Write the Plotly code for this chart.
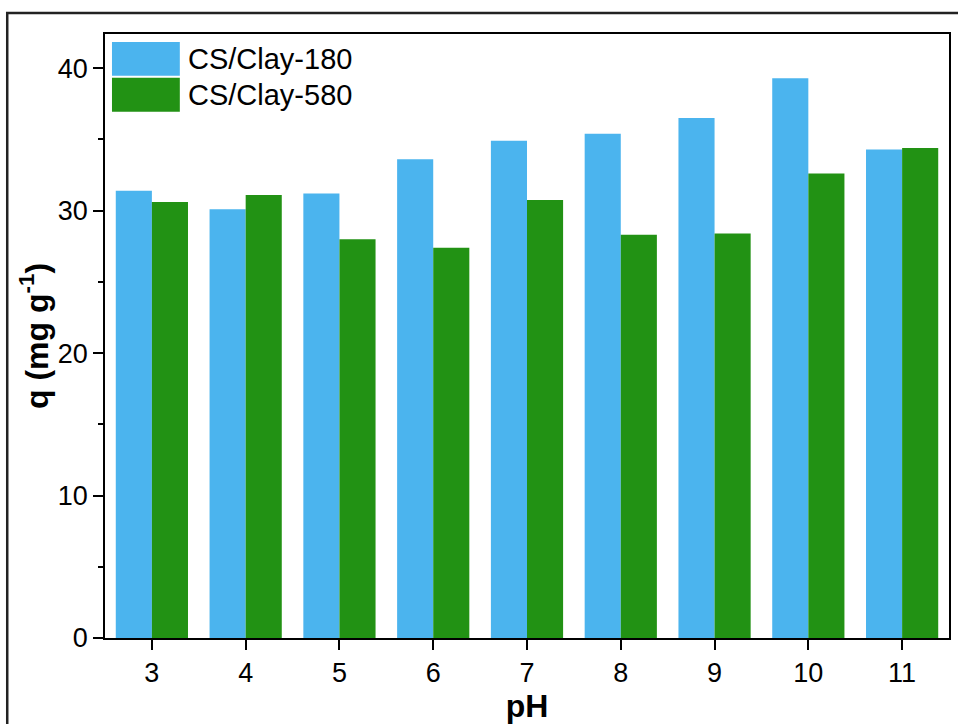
import plotly.graph_objects as go

ph = [3, 4, 5, 6, 7, 8, 9, 10, 11]
cs_clay_180 = [31.4, 30.1, 31.2, 33.6, 34.9, 35.4, 36.5, 39.3, 34.3]
cs_clay_580 = [30.6, 31.1, 28.0, 27.4, 30.75, 28.3, 28.4, 32.6, 34.4]
series_names = ["CS/Clay-180", "CS/Clay-580"]
colors = ["#4BB4EE", "#229214"]

W, H = 958, 724
L, R, T, B = 105, 7, 34, 84
pw, ph_ = W - L - R, H - T - B

def px(x):
    return (x - L) / pw

def py(y):
    return (H - B - y) / ph_

fig = go.Figure()
for name, vals, c in zip(series_names, [cs_clay_180, cs_clay_580], colors):
    fig.add_trace(go.Bar(x=ph, y=vals, name=name, marker=dict(color=c, line=dict(width=0)),
                         showlegend=False))

font_family = "Liberation Sans, Arial, sans-serif"

shapes = [
    # outer frame
    dict(type="rect", xref="paper", yref="paper", x0=px(7), x1=px(W + 20), y0=py(H + 20), y1=py(13),
         line=dict(color="#222222", width=2.5), fillcolor="rgba(0,0,0,0)", layer="above"),
]
annotations = []
# manual legend
sw_rows = [(42, 76), (78, 112)]
for (y0, y1), name, c in zip(sw_rows, series_names, colors):
    shapes.append(dict(type="rect", xref="paper", yref="paper", x0=px(112), x1=px(180),
                       y0=py(y1), y1=py(y0), fillcolor=c, line=dict(width=0)))
    annotations.append(dict(xref="paper", yref="paper", x=px(186), y=py((y0 + y1) / 2),
                            text=name, showarrow=False, xanchor="left", yanchor="middle",
                            font=dict(family=font_family, size=29, color="black")))

fig.update_layout(
    width=W, height=H,
    margin=dict(l=L, r=R, t=T, b=B),
    paper_bgcolor="white", plot_bgcolor="white",
    barmode="group", bargap=0.23, bargroupgap=0,
    font=dict(family=font_family, size=27, color="black"),
    shapes=shapes, annotations=annotations,
    xaxis=dict(range=[2.5, 11.5], tickmode="array", tickvals=ph, ticktext=[str(v) for v in ph],
               ticks="outside", ticklen=10, tickwidth=1.5, tickcolor="black",
               showline=True, linecolor="black", linewidth=1.5, mirror=True,
               showgrid=False, zeroline=False,
               tickfont=dict(size=27),
               title=dict(text="<b>pH</b>", font=dict(size=32), standoff=6)),
    yaxis=dict(range=[0, 42.4], dtick=10, tick0=0,
               ticks="outside", ticklen=10, tickwidth=1.5, tickcolor="black",
               minor=dict(dtick=5, ticks="outside", ticklen=5, tickwidth=1.5, tickcolor="black"),
               showline=True, linecolor="black", linewidth=1.5, mirror=True,
               showgrid=False, zeroline=False,
               tickfont=dict(size=27),
               title=dict(text="<b>q (mg g<sup>-1</sup>)</b>", font=dict(size=32), standoff=0)),
)

fig.write_html("out.html", config={"displayModeBar": False},
               post_script="document.body.style.margin='0';document.body.style.overflow='hidden';")
